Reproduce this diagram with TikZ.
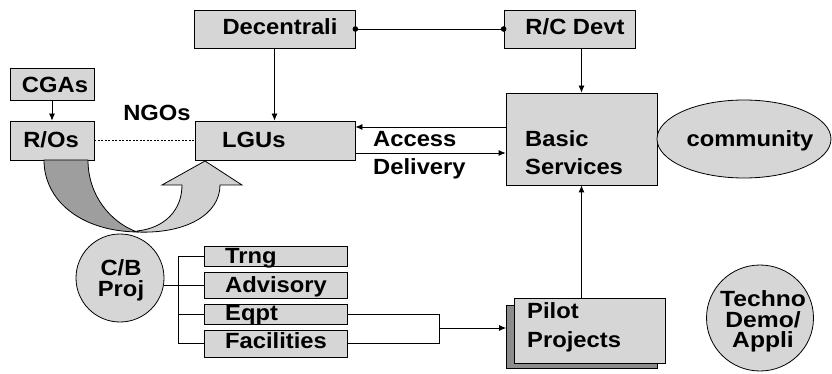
\documentclass[tikz,border=0pt]{standalone}
\usepackage{fontspec}
\setmainfont{Liberation Sans}[FakeStretch=1.08]
\newfontfamily\widefont{Liberation Sans}[FakeStretch=1.12]
\usetikzlibrary{arrows.meta,shapes.geometric,calc}
\definecolor{boxgray}{gray}{0.84}
\definecolor{darkarr}{gray}{0.62}
\definecolor{lightarr}{gray}{0.82}
\definecolor{shadowgray}{gray}{0.55}
\tikzset{
  box/.style={draw=black, fill=boxgray, line width=0.8pt, inner sep=0pt},
  txt/.style={font=\fontsize{22}{24}\selectfont\bfseries, inner sep=0pt},
  widetxt/.style={font=\widefont\fontsize{22}{24}\selectfont\bfseries, inner sep=0pt},
  arr/.style={line width=0.8pt, -{Latex[length=7pt,width=6pt]}},
  link/.style={line width=0.8pt},
  dotlink/.style={line width=0.8pt, dash pattern=on 2pt off 1.5pt}
}
\begin{document}
\begin{tikzpicture}[x=1pt,y=-1pt]
\useasboundingbox (0,0) rectangle (832,374);

% boxes
\node[box, minimum width=84pt, minimum height=32pt] (cga) at (52,84) {};
\node[box, minimum width=84pt, minimum height=39pt] (ros) at (52,140.5) {};
\node[box, minimum width=160pt, minimum height=39pt] (lgu) at (275,140.5) {};
\node[box, minimum width=161pt, minimum height=38pt] (dec) at (274.5,29) {};
\node[box, minimum width=131pt, minimum height=38pt] (rc) at (569.5,29) {};
\node[box, minimum width=151pt, minimum height=92pt] (basic) at (581.5,139) {};
\node[box, minimum width=143pt, minimum height=20pt] (trng) at (275.5,256) {};
\node[box, minimum width=143pt, minimum height=26pt] (adv) at (275.5,285) {};
\node[box, minimum width=143pt, minimum height=20pt] (eqpt) at (275.5,314) {};
\node[box, minimum width=143pt, minimum height=27pt] (fac) at (275.5,343.5) {};
\node[box, fill=shadowgray, minimum width=151pt, minimum height=63pt] (pshadow) at (582,336.5) {};
\node[box, minimum width=151pt, minimum height=65pt] (pilot) at (589.5,330.5) {};
\node[ellipse, draw=black, fill=boxgray, line width=0.8pt, inner sep=0pt, minimum width=174pt, minimum height=78pt] (comm) at (744,139) {};
\node[ellipse, draw=black, fill=boxgray, line width=0.8pt, inner sep=0pt, minimum width=107pt, minimum height=106pt] (techno) at (760,318) {};

% curved capacity arrow
\filldraw[fill=darkarr, draw=black, line width=0.8pt]
  (44,160) .. controls (44,200) and (80,231) .. (137,232)
  .. controls (110,222) and (88,195) .. (88,160) -- cycle;
\filldraw[fill=lightarr, draw=black, line width=0.8pt]
  (137,232) .. controls (185,234) and (220,215) .. (220,185)
  -- (242,185) -- (205,161) -- (162,185) -- (182,185)
  .. controls (182,210) and (165,228) .. (137,231) -- cycle;

\node[circle, draw=black, fill=boxgray, line width=0.8pt, inner sep=0pt, minimum size=88pt] (cb) at (120,278) {};

% texts
\node[txt, anchor=base] at (55,93) {CGAs};
\node[txt, anchor=base] at (51,148) {R/Os};
\node[txt, anchor=base] at (157,121) {NGOs};
\node[txt, anchor=base west] at (222,148) {LGUs};
\node[txt, anchor=base] at (280,35) {Decentrali};
\node[txt, anchor=base] at (575,35) {R/C Devt};
\node[txt, anchor=base west] at (373,147) {Access};
\node[txt, anchor=base west] at (373,175) {Delivery};
\node[txt, anchor=base west] at (525,147) {Basic};
\node[txt, anchor=base west] at (525,175) {Services};
\node[txt, anchor=base] at (750,147) {community};
\node[txt, anchor=base west] at (527,318) {Pilot};
\node[txt, anchor=base west] at (527,347) {Projects};
\node[widetxt, anchor=base] at (763,306) {Techno};
\node[widetxt, anchor=base] at (763,327) {Demo/};
\node[widetxt, anchor=base] at (763,347) {Appli};
\node[txt, anchor=base] at (121,275) {C/B};
\node[txt, anchor=base] at (121,296) {Proj};
\node[txt, anchor=base west] at (225,263) {Trng};
\node[txt, anchor=base west] at (225,292) {Advisory};
\node[txt, anchor=base west] at (225,320) {Eqpt};
\node[txt, anchor=base west] at (225,348) {Facilities};

% connectors
\draw[arr] (cga) -- (ros);
\draw[dotlink] (ros) -- (lgu);
\draw[arr] (dec.south) -- (dec.south |- lgu.north);
\draw[link] (dec.east) -- (rc.west);
\fill (dec.east) circle (2.8pt);
\fill (rc.west) circle (2.8pt);
\draw[arr] (basic.north |- rc.south) -- (basic.north);
\draw[arr] ([yshift=12pt]basic.west) -- ([yshift=12pt]basic.west -| lgu.east);
\draw[arr] ([yshift=-12.5pt]lgu.east) -- ([yshift=-12.5pt]lgu.east -| basic.west);
\draw[arr] (basic.south |- pilot.north) -- (basic.south);

\coordinate (bx) at (178,0);
\draw[link] (trng.west) -- (trng.west -| bx) -- (fac.west -| bx) -- (fac.west);
\draw[link] (adv.west) -- (cb.east |- adv.west);
\draw[link] (eqpt.west) -- (eqpt.west -| bx);

\coordinate (ex) at (439,0);
\draw[link] (eqpt.east) -- (eqpt.east -| ex) -- (fac.east -| ex) -- (fac.east);
\coordinate (k) at (439,328);
\draw[arr] (k) -- (k -| pshadow.west);
\end{tikzpicture}
\end{document}
